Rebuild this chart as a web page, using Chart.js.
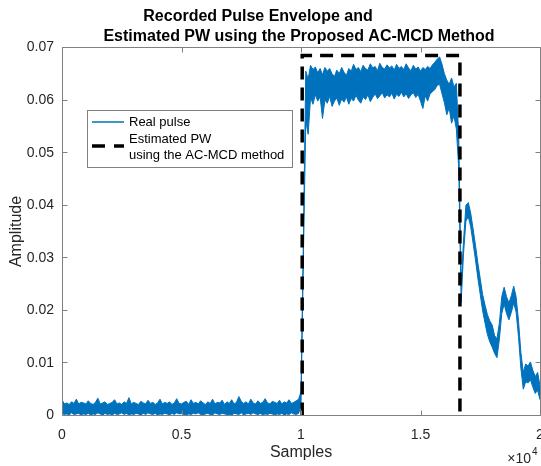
<!DOCTYPE html>
<html>
<head>
<meta charset="utf-8">
<script src="https://cdn.jsdelivr.net/npm/chart.js@4.4.1/dist/chart.umd.min.js"></script>
<style>
  html, body { margin: 0; padding: 0; background: #fff; }
</style>
</head>
<body>
<canvas id="pulseChart" width="541" height="466"></canvas>
<script>
// sample spacing of the envelope points
const stepSamples = 100;

// baseline noise before the pulse (0 .. 9900)
const baseStart = 0;
const baseUpper = [
  0.0030, 0.0022, 0.0024, 0.0021, 0.0026, 0.0023, 0.0031, 0.0022, 0.0025, 0.0024,
  0.0022, 0.0028, 0.0023, 0.0021, 0.0025, 0.0033, 0.0022, 0.0024, 0.0026, 0.0021,
  0.0023, 0.0025, 0.0030, 0.0022, 0.0024, 0.0021, 0.0026, 0.0023, 0.0034, 0.0022,
  0.0025, 0.0023, 0.0021, 0.0027, 0.0024, 0.0022, 0.0029, 0.0023, 0.0025, 0.0021,
  0.0024, 0.0031, 0.0022, 0.0025, 0.0023, 0.0026, 0.0021, 0.0024, 0.0032, 0.0023,
  0.0022, 0.0025, 0.0027, 0.0021, 0.0030, 0.0023, 0.0025, 0.0022, 0.0028, 0.0024,
  0.0021, 0.0026, 0.0023, 0.0031, 0.0022, 0.0025, 0.0024, 0.0029, 0.0021, 0.0026,
  0.0023, 0.0030, 0.0022, 0.0025, 0.0036, 0.0027, 0.0023, 0.0026, 0.0022, 0.0031,
  0.0024, 0.0022, 0.0028, 0.0023, 0.0025, 0.0032, 0.0024, 0.0022, 0.0027, 0.0025,
  0.0023, 0.0029, 0.0022, 0.0026, 0.0024, 0.0030, 0.0023, 0.0025, 0.0028, 0.0031
];
const baseLower = [
  0.0004, 0.0002, 0.0003, 0.0001, 0.0005, 0.0002, 0.0003, 0.0004, 0.0001, 0.0003,
  0.0002, 0.0004, 0.0001, 0.0003, 0.0002, 0.0005, 0.0003, 0.0001, 0.0004, 0.0002,
  0.0003, 0.0001, 0.0004, 0.0002, 0.0003, 0.0005, 0.0002, 0.0004, 0.0001, 0.0003,
  0.0002, 0.0004, 0.0003, 0.0001, 0.0004, 0.0002, 0.0005, 0.0003, 0.0002, 0.0004,
  0.0001, 0.0003, 0.0002, 0.0004, 0.0003, 0.0001, 0.0004, 0.0002, 0.0005, 0.0003,
  0.0004, 0.0002, 0.0001, 0.0003, 0.0002, 0.0004, 0.0003, 0.0005, 0.0002, 0.0001,
  0.0003, 0.0004, 0.0002, 0.0001, 0.0005, 0.0003, 0.0002, 0.0004, 0.0003, 0.0002,
  0.0002, 0.0001, 0.0004, 0.0003, 0.0002, 0.0005, 0.0001, 0.0003, 0.0004, 0.0002,
  0.0005, 0.0003, 0.0002, 0.0004, 0.0001, 0.0003, 0.0002, 0.0004, 0.0003, 0.0001,
  0.0003, 0.0002, 0.0004, 0.0001, 0.0003, 0.0002, 0.0005, 0.0003, 0.0002, 0.0004
];

// rising edge + plateau + falling edge (10000 .. 16700)
const pulseStart = 10000;
const pulseUpper = [
  0.0045, 0.0335, 0.0655,
  0.0640, 0.0666, 0.0658, 0.0663, 0.0652, 0.0660, 0.0648, 0.0662, 0.0655,
  0.0660, 0.0650, 0.0645, 0.0657, 0.0650, 0.0662, 0.0653, 0.0647, 0.0660, 0.0655,
  0.0668, 0.0658, 0.0662, 0.0654, 0.0666, 0.0660, 0.0657, 0.0669, 0.0661, 0.0664,
  0.0656, 0.0670, 0.0662, 0.0659, 0.0667, 0.0661, 0.0665, 0.0657, 0.0668, 0.0660,
  0.0664, 0.0658, 0.0669, 0.0661, 0.0656, 0.0666, 0.0659, 0.0663, 0.0655, 0.0662,
  0.0658, 0.0664, 0.0660, 0.0667, 0.0672, 0.0678, 0.0682, 0.0668, 0.0650, 0.0638,
  0.0630, 0.0642, 0.0625, 0.0632, 0.0530, 0.0250
];
const pulseLower = [
  0.0020, 0.0300,
  0.0560, 0.0535, 0.0605, 0.0592, 0.0610, 0.0598, 0.0606, 0.0565, 0.0600, 0.0594,
  0.0607, 0.0588, 0.0598, 0.0604, 0.0590, 0.0602, 0.0596, 0.0606, 0.0592, 0.0603,
  0.0598, 0.0609, 0.0600, 0.0594, 0.0606, 0.0601, 0.0610, 0.0597, 0.0605, 0.0612,
  0.0603, 0.0608, 0.0614, 0.0604, 0.0610, 0.0606, 0.0613, 0.0602, 0.0611, 0.0607,
  0.0615, 0.0606, 0.0612, 0.0603, 0.0610, 0.0614, 0.0605, 0.0611, 0.0598, 0.0584,
  0.0608, 0.0598, 0.0612, 0.0616, 0.0620, 0.0628, 0.0630, 0.0612, 0.0595, 0.0572,
  0.0585, 0.0556, 0.0570, 0.0545, 0.0470, 0.0215
];

// decaying tail after the pulse (16800 .. 20000)
const tailStart = 16800;
const tailUpper = [
  0.0332, 0.0400, 0.0405, 0.0385, 0.0355, 0.0324, 0.0290, 0.0260, 0.0230, 0.0210,
  0.0192, 0.0180, 0.0172, 0.0152, 0.0146, 0.0176, 0.0226, 0.0244, 0.0226, 0.0214,
  0.0228, 0.0246, 0.0226, 0.0180, 0.0120, 0.0082, 0.0098, 0.0094, 0.0102, 0.0086,
  0.0074, 0.0082, 0.0056
];
const tailLower = [
  0.0308, 0.0370, 0.0378, 0.0359, 0.0328, 0.0296, 0.0261, 0.0230, 0.0199, 0.0176,
  0.0154, 0.0140, 0.0130, 0.0118, 0.0110, 0.0145, 0.0194, 0.0212, 0.0194, 0.0182,
  0.0196, 0.0214, 0.0197, 0.0150, 0.0090, 0.0050, 0.0064, 0.0062, 0.0068, 0.0054,
  0.0042, 0.0048, 0.0030
];

// estimated pulse width window
const pwX = [10050, 10050, 16650, 16650];
const pwY = [0, 0.0685, 0.0685, 0];

const titleLines = ['Recorded Pulse Envelope and', 'Estimated PW using the Proposed AC-MCD Method'];
const legendLabels = [['Real pulse'], ['Estimated PW', 'using the AC-MCD method']];

const blue = '#0072BD';
const fontFam = '"Liberation Sans", Arial, Helvetica, sans-serif';

function toPoints(start, values) {
  return values.map((v, i) => ({ x: start + i * stepSamples, y: v }));
}

const upperPts = toPoints(baseStart, baseUpper).concat(toPoints(pulseStart, pulseUpper), toPoints(tailStart, tailUpper));
const lowerPts = toPoints(baseStart, baseLower).concat(toPoints(pulseStart, pulseLower), toPoints(tailStart, tailLower));
const pwPts = pwX.map((x, i) => ({ x: x, y: pwY[i] }));

Chart.defaults.font.family = fontFam;

// box around the axes and inward ticks, like the original figure
const axesBox = {
  id: 'axesBox',
  afterDatasetsDraw(chart) {
    const { ctx, chartArea: a, scales } = chart;
    const L = a.left + 0.5, R = a.right + 0.5, T = a.top, B = a.bottom;
    ctx.save();
    ctx.strokeStyle = '#808080';
    ctx.lineWidth = 1;
    ctx.beginPath();
    ctx.rect(L, T, R - L, B - T);
    scales.x.ticks.forEach(t => {
      const px = Math.round(scales.x.getPixelForValue(t.value)) + 0.5;
      ctx.moveTo(px, B); ctx.lineTo(px, B - 5);
      ctx.moveTo(px, T); ctx.lineTo(px, T + 5);
    });
    scales.y.ticks.forEach(t => {
      const py = Math.round(scales.y.getPixelForValue(t.value) - 0.5) + 0.5;
      ctx.moveTo(L, py); ctx.lineTo(L + 5, py);
      ctx.moveTo(R, py); ctx.lineTo(R - 5, py);
    });
    ctx.stroke();
    ctx.restore();
  },
  afterDraw(chart) {
    const ctx = chart.ctx;
    ctx.save();
    // title
    ctx.fillStyle = '#000';
    ctx.font = 'bold 16px ' + fontFam;
    ctx.textAlign = 'center';
    ctx.textBaseline = 'middle';
    ctx.fillText(titleLines[0], 258, 17);
    ctx.fillText(titleLines[1], 299, 37);

    // x10^4 exponent
    ctx.fillStyle = '#262626';
    ctx.textAlign = 'right';
    ctx.font = '14px ' + fontFam;
    ctx.fillText('\u00d710', 531, 459);
    ctx.textAlign = 'left';
    ctx.font = '10px ' + fontFam;
    ctx.fillText('4', 532, 452);

    // legend
    const bx = 87.5, by = 110.5, bw = 205, bh = 57;
    ctx.fillStyle = '#fff';
    ctx.fillRect(bx, by, bw, bh);
    ctx.strokeStyle = '#808080';
    ctx.lineWidth = 1;
    ctx.strokeRect(bx, by, bw, bh);

    ctx.strokeStyle = blue;
    ctx.lineWidth = 1.5;
    ctx.beginPath();
    ctx.moveTo(92, 122); ctx.lineTo(124, 122);
    ctx.stroke();

    ctx.strokeStyle = '#000';
    ctx.lineWidth = 3.5;
    ctx.setLineDash([13, 9]);
    ctx.beginPath();
    ctx.moveTo(92, 146); ctx.lineTo(124, 146);
    ctx.stroke();
    ctx.setLineDash([]);

    ctx.fillStyle = '#000';
    ctx.font = '13px ' + fontFam;
    ctx.textAlign = 'left';
    ctx.textBaseline = 'middle';
    ctx.fillText(legendLabels[0][0], 129, 122);
    ctx.fillText(legendLabels[1][0], 129, 139);
    ctx.fillText(legendLabels[1][1], 129, 155);
    ctx.restore();
  }
};

new Chart(document.getElementById('pulseChart'), {
  type: 'line',
  data: {
    datasets: [
      {
        label: 'Estimated PW',
        data: pwPts,
        borderColor: '#000',
        borderWidth: 3.5,
        borderDash: [13, 8],
        borderCapStyle: 'butt',
        pointRadius: 0,
        fill: false,
        order: 0
      },
      {
        label: 'Real pulse',
        data: upperPts,
        borderColor: blue,
        backgroundColor: blue,
        borderWidth: 1,
        pointRadius: 0,
        fill: '+1',
        order: 1
      },
      {
        label: 'Real pulse lower',
        data: lowerPts,
        borderColor: blue,
        borderWidth: 1,
        pointRadius: 0,
        fill: false,
        order: 1
      }
    ]
  },
  options: {
    responsive: false,
    animation: false,
    layout: { padding: { left: 0, right: 1, top: 47.5, bottom: 0 } },
    plugins: {
      legend: { display: false },
      title: { display: false },
      tooltip: { enabled: false }
    },
    scales: {
      x: {
        type: 'linear',
        min: 0,
        max: 20000,
        grid: { display: false, drawTicks: false },
        border: { display: false },
        ticks: {
          stepSize: 5000,
          autoSkip: false,
          maxRotation: 0,
          padding: 11,
          color: '#262626',
          font: { size: 14 },
          callback: v => String(v / 10000)
        },
        title: {
          display: true,
          text: 'Samples',
          color: '#262626',
          font: { size: 16 },
          padding: { top: 0, bottom: 4 }
        },
        afterFit: s => { s.height = 50.5; s.paddingLeft = 0; s.paddingRight = 0; }
      },
      y: {
        min: 0,
        max: 0.07,
        grid: { display: false, drawTicks: false },
        border: { display: false },
        ticks: {
          stepSize: 0.01,
          autoSkip: false,
          padding: 8,
          color: '#262626',
          font: { size: 14 },
          callback: v => (Math.abs(v) < 1e-9 ? '0' : v.toFixed(2))
        },
        title: {
          display: true,
          text: 'Amplitude',
          color: '#262626',
          font: { size: 16 },
          padding: { top: 7, bottom: 0 }
        },
        afterFit: s => { s.width = 62; s.paddingTop = 0; s.paddingBottom = 0; }
      }
    }
  },
  plugins: [axesBox]
});
</script>
</body>
</html>
